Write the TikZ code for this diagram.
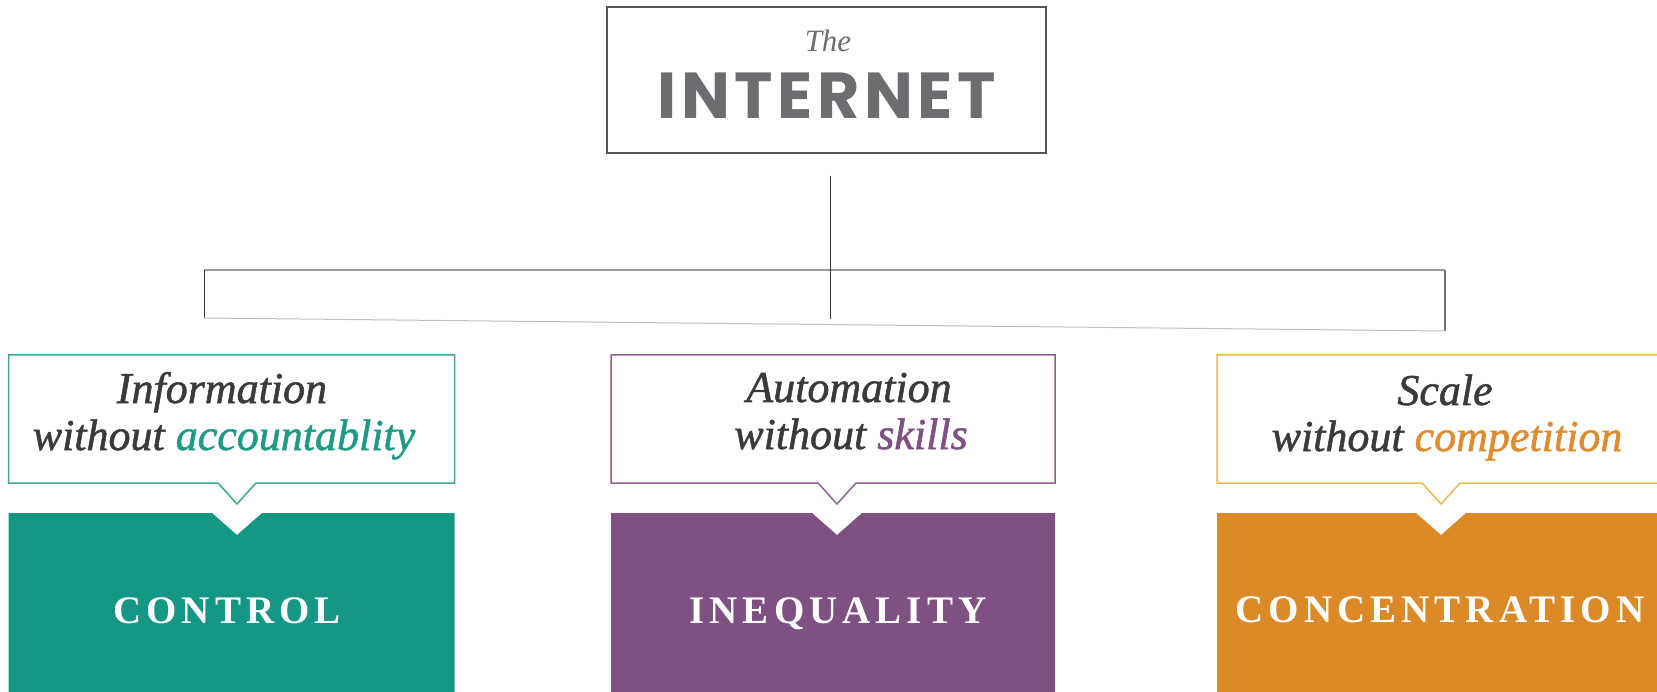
\documentclass[tikz,border=0pt]{standalone}
\usepackage{fontspec}
\setmainfont{Liberation Serif}
\newfontfamily\inetfont{Poppins}[LetterSpace=7]
\newfontfamily\capsfont{Liberation Serif}[LetterSpace=13]
\newfontfamily\quotefont{Liberation Serif Italic}[FakeBold=1.2]
\definecolor{greenF}{RGB}{21,151,134}
\definecolor{purpleF}{RGB}{127,80,130}
\definecolor{orangeF}{RGB}{220,137,40}
\definecolor{greenB}{RGB}{60,168,152}
\definecolor{purpleB}{RGB}{140,98,143}
\definecolor{orangeB}{RGB}{232,186,80}
\definecolor{greenT}{RGB}{30,155,135}
\definecolor{purpleT}{RGB}{127,80,130}
\definecolor{orangeT}{RGB}{222,140,45}
\definecolor{darkT}{RGB}{58,58,60}
\definecolor{inetgray}{RGB}{108,109,112}
\definecolor{boxgray}{RGB}{85,85,85}
\tikzset{
  quote/.style={anchor=base, inner sep=0, text=darkT, font=\fontsize{44}{50}\selectfont\quotefont},
  capslabel/.style={anchor=base, inner sep=0, text=white, font=\fontsize{39}{44}\selectfont\capsfont\bfseries},
  calloutline/.style={line width=1.5pt, fill=white, line join=miter},
}
\newcommand\panel[5]{%
  \fill[#4] (#1,513) -- (#3-25,513) -- (#3,535) -- (#3+25,513) -- (#2,513) -- (#2,700) -- (#1,700) -- cycle;
  \draw[calloutline, draw=#5] (#1,355) -- (#2,355) -- (#2,483) -- (#3+19,483) -- (#3,504) -- (#3-19,483) -- (#1,483) -- cycle;
}
\begin{document}
\begin{tikzpicture}[x=1pt,y=-1pt]
\useasboundingbox (0,0) rectangle (1657,692);
\clip (0,0) rectangle (1657,692);
% top box
\node[draw=boxgray, line width=1.5pt, minimum width=439pt, minimum height=146pt, inner sep=0] (top) at (826.5,80) {};
\node[anchor=base, inner sep=0, text=inetgray, font=\fontsize{31}{34}\selectfont\itshape] (the) at (828,52) {The};
\node[anchor=base, inner sep=0, text=inetgray, font=\fontsize{65}{70}\selectfont\inetfont\bfseries] (inet) at (826.5,119) {INTERNET};
% stem and bracket
\coordinate (stemtop) at (830,176);
\coordinate (stembot) at (830,319);
\coordinate (tl) at (204,270);
\coordinate (tr) at (1445,270);
\coordinate (bl) at (204,318);
\coordinate (br) at (1445,331);
\draw[line width=2pt, draw=black!40] (tl) -- (tr);
\draw[line width=1pt, draw=black!80] (tl) -- (bl);
\draw[line width=1.3pt, draw=black!55] (tr) -- (br);
\draw[line width=1pt, draw=black!25] (bl) -- (br);
\draw[line width=1pt, draw=black!80] (stemtop) -- (stembot);
% panels
\panel{8.5}{454.5}{237}{greenF}{greenB}
\panel{611}{1055}{837}{purpleF}{purpleB}
\panel{1217}{1661}{1441}{orangeF}{orangeB}
% texts
\node[quote] (g1) at (222,403) {Information};
\node[quote] (g2) at (224,450) {without \textcolor{greenT}{accountablity}};
\node[quote] (p1) at (849,402) {Automation};
\node[quote] (p2) at (851,449) {without \textcolor{purpleT}{skills}};
\node[quote] (o1) at (1445,405) {Scale};
\node[quote] (o2) at (1447,451) {without \textcolor{orangeT}{competition}};
\node[capslabel] (gc) at (227,623) {CONTROL};
\node[capslabel] (pc) at (838,623) {INEQUALITY};
\node[capslabel] (oc) at (1440,622) {CONCENTRATION};
\end{tikzpicture}
\end{document}
